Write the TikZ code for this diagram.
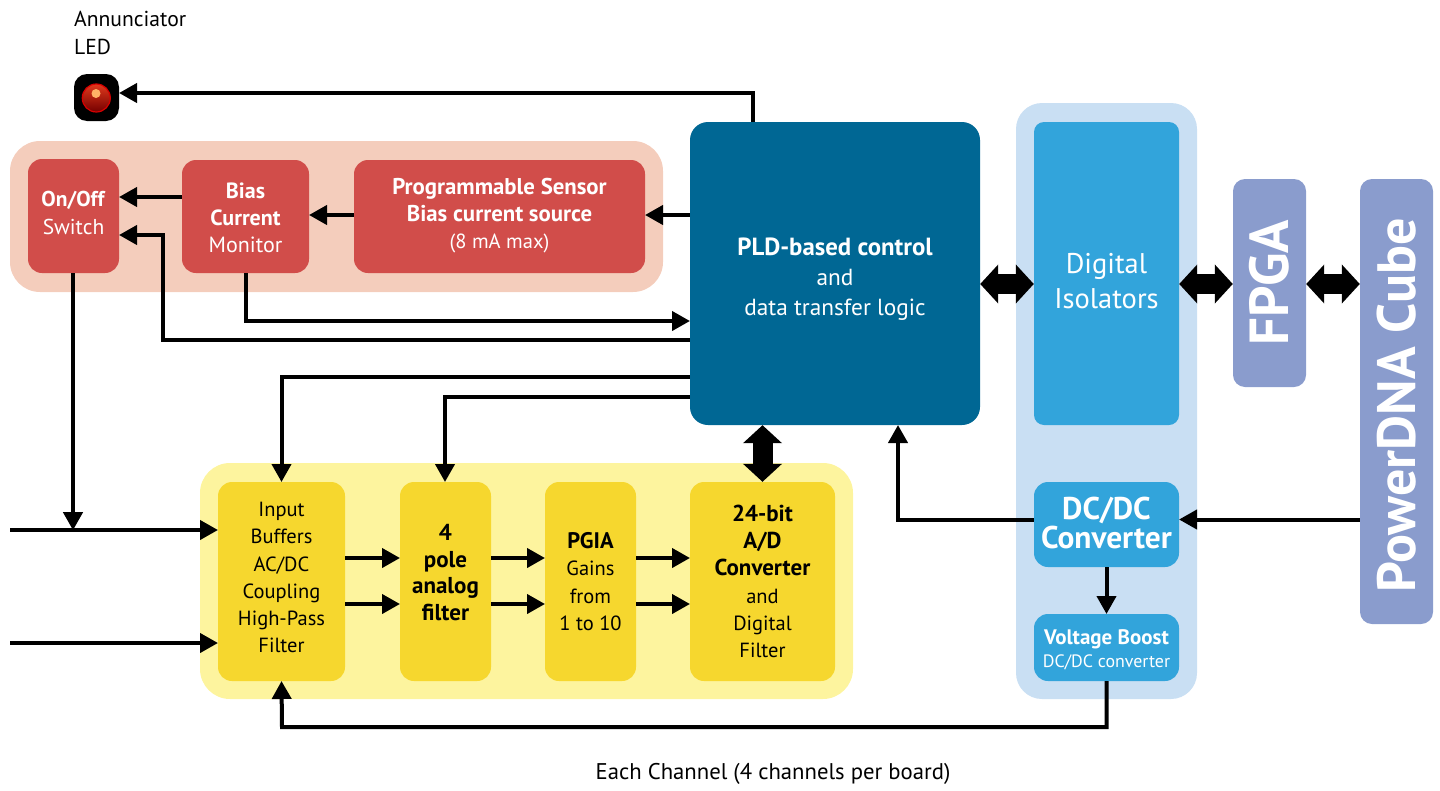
\documentclass[tikz,border=0pt]{standalone}
\usepackage{fontspec}
\setmainfont{PT Sans}
\usetikzlibrary{arrows.meta,calc}
\definecolor{pinkbg}{HTML}{F4CDBC}
\definecolor{redbox}{HTML}{D14D4A}
\definecolor{pldblue}{HTML}{006794}
\definecolor{lightblue}{HTML}{C9DFF3}
\definecolor{midblue}{HTML}{32A4DB}
\definecolor{periw}{HTML}{8A9CCD}
\definecolor{yellowbg}{HTML}{FDF49E}
\definecolor{yellowbox}{HTML}{F6D72E}
\newcommand\topstrut[1]{\rule{0pt}{#1pt}}
\newcommand\botstrut[1]{\rule[-#1pt]{0pt}{#1pt}}
\newcommand\fsz[2]{\fontsize{#1}{#2}\selectfont}
\tikzset{
 x=1pt,y=-1pt,
 blockbox/.style={inner sep=0pt,align=center,draw=none,rounded corners=#1},
 blockbox/.default=14pt,
 fs/.style 2 args={font=\fontsize{#1}{#2}\selectfont},
 conn/.style={line width=4pt,-{Triangle[length=18pt,width=19pt]},shorten >=-0.2pt},
 dbl/.style={line width=20pt,{Triangle[length=18pt,width=38pt]}-{Triangle[length=18pt,width=38pt]}},
 size/.style 2 args={minimum width=#1pt,minimum height=#2pt},
}
\begin{document}
\begin{tikzpicture}
\useasboundingbox (0,0) rectangle (1440,790);
% backgrounds
\node[blockbox=30pt,fill=pinkbg,size={653}{151}] (pinkpanel) at (336.5,216.5) {};
\node[blockbox=26pt,fill=lightblue,size={181}{596}] (bluepanel) at (1106.5,401) {};
\node[blockbox=30pt,fill=yellowbg,size={653}{236}] (yellowpanel) at (526.5,581) {};
% red blocks
\node[blockbox,fill=redbox,text=white,size={91}{114},fs={21.5}{27.5}] (onoff) at (73.5,216) {\textbf{On/Off}\\Switch\botstrut{6}};
\node[blockbox,fill=redbox,text=white,size={127}{113},fs={22}{27}] (bias) at (245.5,216.5) {\topstrut{18}\textbf{Bias}\\\textbf{Current}\\Monitor};
\node[blockbox,fill=redbox,text=white,size={291}{113},fs={22.8}{27}] (prog) at (499.5,216.5) {\textbf{Programmable Sensor}\\\textbf{Bias current source}\\{\fsz{20.5}{27}(8 mA max)}\botstrut{7}};
% control
\node[blockbox=18pt,fill=pldblue,text=white,size={290}{303},fs={24.8}{30}] (pld) at (835,273.5) {\topstrut{28}\textbf{PLD-based control}\\{\fsz{23.3}{30}and}\\{\fsz{23.3}{30}data transfer logic}};
% blue column
\node[blockbox=10pt,fill=midblue,text=white,size={145}{303},fs={28.5}{35}] (iso) at (1106.5,273.5) {\topstrut{36}Digital\\Isolators};
\node[blockbox,fill=midblue,text=white,size={145}{85},fs={31.4}{29}] (dcdc) at (1106.5,524.5) {\textbf{DC/DC}\\\textbf{Converter}\botstrut{4}};
\node[blockbox,fill=midblue,text=white,size={145}{67},fs={21}{23}] (boost) at (1106.5,647.5) {\topstrut{19}\textbf{Voltage Boost}\\{\fsz{17.9}{23}DC/DC converter}};
% periwinkle
\node[blockbox=12pt,fill=periw,text=white,size={73}{208},fs={55}{55}] (fpga) at (1269.5,283) {\rotatebox{90}{\textbf{FPGA}}};
\node[blockbox=12pt,fill=periw,text=white,size={73}{445},fs={54}{54}] (cube) at (1396.5,401.5) {\rotatebox{90}{\textbf{PowerDNA Cube}\hspace{8pt}}};
% yellow blocks
\node[blockbox,fill=yellowbox,text=black,size={127}{199},fs={20.5}{27.2}] (input) at (281.5,581.5) {Input\\Buffers\\AC/DC\\Coupling\\High-Pass\\Filter\botstrut{8}};
\node[blockbox,fill=yellowbox,text=black,size={91}{199},fs={23}{26.7}] (filter) at (445.5,581.5) {\textbf{4}\\\textbf{pole}\\\textbf{analog}\\\textbf{filter}\botstrut{18}};
\node[blockbox,fill=yellowbox,text=black,size={91}{199},fs={20.5}{27.2}] (pgia) at (590.5,581.5) {{\fsz{22.5}{27.2}\textbf{PGIA}}\\Gains\\from\\1 to 10};
\node[blockbox,fill=yellowbox,text=black,size={145}{199},fs={20.5}{27.2}] (adc) at (762.5,581.5) {{\fsz{23}{27.2}\textbf{24-bit}}\\{\fsz{23}{27.2}\textbf{A/D}}\\{\fsz{23}{27.2}\textbf{Converter}}\\and\\Digital\\Filter};
% LED
\node[blockbox=13pt,fill=black,size={45}{47}] (led) at (96.5,97.5) {};
\fill[draw=red!85!black,line width=1.2pt,top color=red!55!brown,bottom color=red!45!black] (96.3,98) circle (14pt);
\fill[orange!60!white] (96,93.5) circle (4.5pt);
% texts
\node[inner sep=0pt,align=left,anchor=north west,fs={21.6}{27.5}] (ledlabel) at (74,11) {Annunciator\\LED};
\node[inner sep=0pt,fs={22.7}{28}] (caption) at (773,774) {Each Channel (4 channels per board)};
% free ends
\coordinate (inA) at (10,530);
\coordinate (inB) at (10,643);
\coordinate (tap) at (73,530);
% connectors
\draw[conn] (pld.north -| 753,0) |- (led.east |- 0,93);
\draw[conn] (pld.west |- 0,215) -- (prog.east |- 0,215);
\draw[conn] (prog.west |- 0,215) -- (bias.east |- 0,215);
\draw[conn] (bias.west |- 0,197) -- (onoff.east |- 0,197);
\draw[conn] (pld.west |- 0,340) -| (163,235) -- (onoff.east |- 0,235);
\draw[conn] (bias.south) |- (pld.west |- 0,321);
\draw[conn] (onoff.south -| tap) -- (tap);
\draw[conn] (inA) -- (input.west |- inA);
\draw[conn] (inB) -- (input.west |- inB);
\draw[conn] (pld.west |- 0,377) -| (input.north);
\draw[conn] (pld.west |- 0,397) -| (filter.north -| 445,0);
\foreach \yy in {558,604}{
 \draw[conn] (input.east |- 0,\yy) -- (filter.west |- 0,\yy);
 \draw[conn] (filter.east |- 0,\yy) -- (pgia.west |- 0,\yy);
 \draw[conn] (pgia.east |- 0,\yy) -- (adc.west |- 0,\yy);
}
\draw[dbl] (pld.south -| adc) -- (adc.north);
\draw[dbl] (pld.east |- 0,284) -- (iso.west |- 0,284);
\draw[dbl] (iso.east |- 0,284) -- (fpga.west |- 0,284);
\draw[dbl] (fpga.east |- 0,284) -- (cube.west |- 0,284);
\draw[conn] (cube.west |- 0,519.5) -- (dcdc.east |- 0,519.5);
\draw[conn] (dcdc.west |- 0,519.5) -| (pld.south -| 898,0);
\draw[conn] (dcdc.south) -- (boost.north);
\draw[conn] (boost.south) |- (282,727) -- (input.south);
\end{tikzpicture}
\end{document}
